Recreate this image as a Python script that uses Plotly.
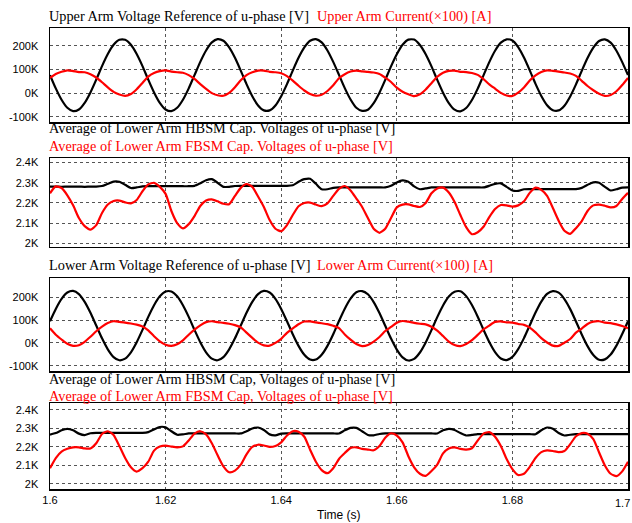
import plotly.graph_objects as go

# ---------------- data (sampled every 1 ms from t = 1.6 s to 1.7 s) ----------------
time_ms = list(range(0, 101))
time_s = [1.6 + m / 1000.0 for m in time_ms]

# Panel 1 : upper arm voltage reference [kV] and upper arm current x100 [k]
upper_vref = [76, 20, -28, -62, -76, -69, -41, 3, 57, 114, 165, 204, 225, 225, 204, 165, 114, 57, 3, -41,
              -69, -76, -62, -28, 20, 76, 132, 180, 214, 228, 221, 193, 149, 95, 38, -13, -52, -73, -73, -52,
              -13, 38, 95, 149, 193, 221, 228, 214, 180, 132,
              77, 21, -27, -62, -75, -70, -42, 2, 56, 113, 164, 204, 226, 226, 203, 164, 113, 56, 2, -42,
              -70, -77, -63, -29, 19, 75, 131, 179, 213, 227, 222, 194, 150, 96, 39, -12, -51, -72, -73, -53,
              -14, 37, 94, 148, 192, 220, 227, 213, 179, 131, 76]
upper_cur = [64, 81, 90, 96, 93, 89, 88, 80, 66, 46, 24, 5, -6, -12, -4, 16, 43, 70, 85, 93,
             96, 91, 88, 86, 76, 60, 38, 18, 0, -9, -11, 1, 25, 54, 76, 88, 95, 95, 90, 88,
             84, 72, 53, 31, 11, -4, -11, -7, 9, 33,
             63, 80, 91, 95, 92, 90, 87, 81, 65, 47, 23, 6, -5, -13, -5, 15, 42, 69, 86, 94,
             95, 90, 89, 85, 77, 59, 37, 19, 1, -10, -12, 2, 24, 53, 75, 89, 96, 94, 91, 87,
             83, 73, 52, 30, 12, -3, -12, -8, 8, 34, 64]

# Panel 2 : average lower-arm capacitor voltages [kV]
hbsm_avg_1 = [2.281, 2.281, 2.280, 2.281, 2.281, 2.281, 2.280, 2.281, 2.281,
              2.284, 2.295, 2.306, 2.305, 2.290, 2.274, 2.277, 2.282,
              2.283, 2.283, 2.283, 2.283, 2.283, 2.283, 2.283, 2.283,
              2.285, 2.298, 2.313, 2.318, 2.300, 2.280, 2.280, 2.284,
              2.285, 2.285, 2.285, 2.285, 2.285, 2.285, 2.285, 2.285, 2.285,
              2.288, 2.305, 2.318, 2.320, 2.295, 2.268, 2.268, 2.275,
              2.277, 2.277, 2.277, 2.277, 2.277, 2.277, 2.277, 2.277, 2.277,
              2.285, 2.302, 2.312, 2.305, 2.282, 2.268, 2.272, 2.277,
              2.277, 2.277, 2.277, 2.277, 2.277, 2.277, 2.277, 2.277, 2.277,
              2.285, 2.295, 2.297, 2.280, 2.262, 2.260, 2.268,
              2.269, 2.269, 2.269, 2.269, 2.269, 2.269, 2.269, 2.269, 2.269,
              2.275, 2.290, 2.302, 2.300, 2.280, 2.262, 2.268, 2.276, 2.277]
fbsm_avg_1 = [2.248, 2.282, 2.274, 2.238, 2.188, 2.125, 2.085, 2.068, 2.090, 2.150,
              2.192, 2.210, 2.212, 2.203, 2.198, 2.215, 2.258, 2.292, 2.300, 2.280,
              2.245, 2.160, 2.100, 2.074, 2.095, 2.135, 2.185, 2.212, 2.218, 2.208,
              2.196, 2.194, 2.235, 2.275, 2.294, 2.280, 2.232, 2.180, 2.115, 2.072,
              2.060, 2.090, 2.140, 2.184, 2.200, 2.202, 2.192, 2.184, 2.198, 2.235,
              2.270, 2.284, 2.262, 2.222, 2.180, 2.125, 2.072, 2.052, 2.072, 2.125,
              2.178, 2.192, 2.193, 2.185, 2.180, 2.200, 2.248, 2.272, 2.276, 2.252,
              2.205, 2.140, 2.080, 2.045, 2.055, 2.082, 2.130, 2.170, 2.190, 2.188,
              2.182, 2.188, 2.208, 2.250, 2.276, 2.265, 2.235, 2.175, 2.112, 2.062,
              2.047, 2.075, 2.110, 2.160, 2.188, 2.192, 2.186, 2.178, 2.185, 2.220, 2.250]

# Panel 3 : lower arm voltage reference [kV] and lower arm current x100 [k]
lower_vref = [95, 149, 193, 221, 228, 214, 180, 132, 76, 20, -28, -62, -76, -69, -41, 3, 57, 114, 165, 204,
              225, 225, 204, 165, 114, 57, 3, -41, -69, -76, -62, -28, 20, 76, 132, 180, 214, 228, 221, 193,
              149, 95, 38, -13, -52, -73, -73, -52, -13, 38,
              96, 150, 194, 222, 227, 213, 179, 131, 75, 19, -29, -63, -77, -70, -42, 2, 56, 113, 164, 203,
              224, 226, 205, 166, 115, 58, 4, -40, -68, -75, -61, -27, 21, 77, 133, 181, 215, 227, 220, 192,
              148, 94, 37, -14, -53, -74, -72, -51, -12, 39, 95]
lower_cur = [64, 36, 15, -4, -13, -10, 5, 27, 51, 71, 87, 95, 92, 89, 85, 80, 72, 55, 29, 7,
             -8, -13, -6, 11, 36, 58, 77, 91, 95, 91, 88, 84, 78, 68, 45, 22, 1, -11, -12, 0,
             18, 44, 64, 82, 94, 94, 90, 86, 82, 75,
             65, 37, 14, -5, -14, -9, 6, 26, 52, 70, 88, 96, 93, 88, 84, 81, 71, 54, 30, 6,
             -9, -14, -5, 12, 35, 59, 76, 92, 94, 90, 89, 83, 79, 67, 46, 21, 2, -12, -13, 1,
             17, 45, 63, 83, 93, 95, 89, 87, 81, 74, 64]

# Panel 4 : average lower-arm capacitor voltages [kV]
hbsm_avg_2 = [2.267, 2.275, 2.290, 2.298, 2.290, 2.272, 2.264, 2.274,
              2.276, 2.276, 2.276, 2.276, 2.276, 2.276, 2.276, 2.276, 2.276,
              2.280, 2.295, 2.308, 2.306, 2.285, 2.266, 2.268, 2.273,
              2.273, 2.273, 2.273, 2.273, 2.273, 2.273, 2.273, 2.273, 2.273,
              2.285, 2.300, 2.305, 2.292, 2.268, 2.263, 2.272,
              2.273, 2.273, 2.273, 2.273, 2.273, 2.273, 2.273, 2.273, 2.273, 2.273,
              2.290, 2.303, 2.303, 2.285, 2.265, 2.263, 2.270,
              2.273, 2.273, 2.273, 2.273, 2.273, 2.273, 2.273, 2.273, 2.273, 2.273,
              2.290, 2.298, 2.292, 2.275, 2.262, 2.265, 2.269,
              2.269, 2.269, 2.269, 2.269, 2.269, 2.269, 2.269, 2.269, 2.269, 2.269,
              2.290, 2.305, 2.298, 2.275, 2.262, 2.266,
              2.269, 2.269, 2.269, 2.269, 2.269, 2.269, 2.269, 2.269, 2.269, 2.269]
fbsm_avg_2 = [2.085, 2.140, 2.175, 2.190, 2.198, 2.198, 2.192, 2.192, 2.220, 2.270,
              2.285, 2.265, 2.205, 2.140, 2.090, 2.067, 2.085, 2.120, 2.180, 2.202,
              2.207, 2.202, 2.198, 2.203, 2.235, 2.272, 2.285, 2.268, 2.220, 2.155,
              2.095, 2.063, 2.072, 2.104, 2.160, 2.200, 2.212, 2.208, 2.200, 2.205,
              2.225, 2.262, 2.285, 2.282, 2.255, 2.185, 2.120, 2.075, 2.058, 2.085,
              2.135, 2.167, 2.195, 2.198, 2.190, 2.186, 2.182, 2.205, 2.250, 2.274,
              2.262, 2.225, 2.150, 2.090, 2.055, 2.044, 2.070, 2.105, 2.165, 2.192,
              2.198, 2.190, 2.186, 2.193, 2.235, 2.272, 2.280, 2.255, 2.205, 2.135,
              2.080, 2.048, 2.055, 2.092, 2.140, 2.172, 2.181, 2.178, 2.172, 2.178,
              2.215, 2.258, 2.275, 2.272, 2.242, 2.170, 2.100, 2.055, 2.042, 2.068, 2.120]

# tick labels
x_ticks = [1.6, 1.62, 1.64, 1.66, 1.68, 1.7]
x_tick_text = ["1.6", "1.62", "1.64", "1.66", "1.68", "1.7"]
v_ticks = [-100, 0, 100, 200]
v_tick_text = ["-100K", "0K", "100K", "200K"]
c_ticks = [2.0, 2.1, 2.2, 2.3, 2.4]
c_tick_text = ["2K", "2.1K", "2.2K", "2.3K", "2.4K"]

# ---------------- figure ----------------
W, H = 632, 523
BLACK = "#000000"
RED = "#ff0000"
SANS = "Liberation Sans, Arial"

fig = go.Figure()
series = [
    (1, upper_vref, BLACK), (1, upper_cur, RED),
    (2, hbsm_avg_1, BLACK), (2, fbsm_avg_1, RED),
    (3, lower_vref, BLACK), (3, lower_cur, RED),
    (4, hbsm_avg_2, BLACK), (4, fbsm_avg_2, RED),
]
for k, ys, col in series:
    sfx = "" if k == 1 else str(k)
    fig.add_trace(go.Scatter(x=time_s, y=ys, mode="lines",
                             line=dict(color=col, width=2.2, shape="spline", smoothing=0.6),
                             xaxis="x" + sfx, yaxis="y" + sfx, hoverinfo="skip"))

# pixel boxes of the four plot areas (top, bottom)
boxes = {1: (28, 122), 2: (158, 246.7), 3: (278.3, 371), 4: (403.3, 489.3)}
x0_px, x1_px = 50, 628
yranges = {1: [-122, 275], 2: [1.983, 2.423], 3: [-123, 283], 4: [1.971, 2.436]}

layout = dict(width=W, height=H, margin=dict(l=0, r=0, t=0, b=0, pad=0, autoexpand=False),
              paper_bgcolor="white", plot_bgcolor="white", showlegend=False,
              font=dict(family=SANS, size=11, color="black"))

grid = dict(showgrid=True, gridcolor="#555555", griddash="dot", gridwidth=1,
            showline=True, mirror=True, linecolor="black", linewidth=1.5, zeroline=False,
            automargin=False)

for k in range(1, 5):
    sfx = "" if k == 1 else str(k)
    top, bot = boxes[k]
    # the last x label ("1.7") sits on the right border and is drawn as an annotation below
    layout["xaxis" + sfx] = dict(domain=[x0_px / W, x1_px / W], range=[1.6, 1.7],
                                 tickvals=x_ticks, ticktext=x_tick_text[:-1] + [""],
                                 showticklabels=(k == 4), ticks="",
                                 tickfont=dict(family=SANS, size=11),
                                 anchor="y" + sfx, **grid)
    is_v = k in (1, 3)
    layout["yaxis" + sfx] = dict(domain=[1 - bot / H, 1 - top / H], range=yranges[k],
                                 tickvals=v_ticks if is_v else c_ticks,
                                 ticktext=v_tick_text if is_v else c_tick_text,
                                 ticks="", ticklabelstandoff=8,
                                 tickfont=dict(family=SANS, size=11),
                                 anchor="x" + sfx, **grid)

fig.update_layout(**layout)

# last x tick label, kept inside the page
fig.add_annotation(text=x_tick_text[-1], xref="x4", yref="paper", x=x_ticks[-1],
                   y=1 - 503 / H, xanchor="right", yanchor="middle", showarrow=False,
                   xshift=4, font=dict(family=SANS, size=11, color="black"))

serif = dict(family="Liberation Serif, Times New Roman", size=14.3)
titles = [
    ("Upper Arm Voltage Reference of u-phase [V]", BLACK, 48, 16.5),
    ("Upper Arm Current(×100) [A]", RED, 316, 16.5),
    ("Average of Lower Arm HBSM Cap. Voltages of u-phase [V]", BLACK, 48, 128),
    ("Average of Lower Arm FBSM Cap. Voltages of u-phase [V]", RED, 48, 146),
    ("Lower Arm Voltage Reference of u-phase [V]", BLACK, 48, 265),
    ("Lower Arm Current(×100) [A]", RED, 316, 265),
    ("Average of Lower Arm HBSM Cap, Voltages of u-phase [V]", BLACK, 48, 378.5),
    ("Average of Lower Arm FBSM Cap, Voltages of u-phase [V]", RED, 48, 396),
]
for text, col, xp, yp in titles:
    fig.add_annotation(text=text, xref="paper", yref="paper", x=xp / W, y=1 - yp / H,
                       xanchor="left", yanchor="middle", showarrow=False, borderpad=0,
                       font=dict(color=col, **serif))

fig.add_annotation(text="Time (s)", xref="paper", yref="paper", x=339 / W, y=1 - 515 / H,
                   xanchor="center", yanchor="middle", showarrow=False,
                   font=dict(family=SANS, size=12, color="black"))

fig.write_html("out.html", config={"displayModeBar": False, "staticPlot": True},
               post_script="document.body.style.margin='0px';document.body.style.overflow='hidden';")
